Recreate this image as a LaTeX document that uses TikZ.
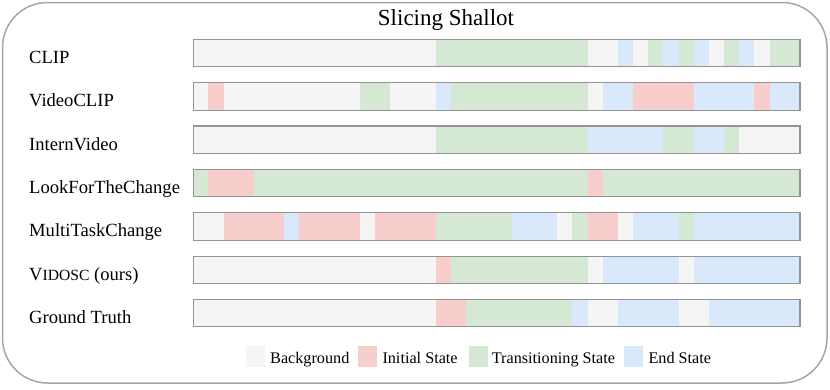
\documentclass[tikz,border=0pt]{standalone}
\usepackage{fontspec}
\setmainfont{Liberation Serif}
\definecolor{bgc}{HTML}{F5F5F5}
\definecolor{ini}{HTML}{F8CECC}
\definecolor{tra}{HTML}{D5E8D4}
\definecolor{fin}{HTML}{DAE8FC}
% one row of the timeline: #1 = top, #2 = colour/start/end segments (40 steps)
\newcommand{\staterow}[2]{%
  \foreach \col/\s/\e in {#2}
    \fill[\col] ({193.3+15.167*\s},#1) rectangle ({193.3+15.167*\e},#1+27.5);
  \draw[frame] (193.3,#1) rectangle (800,#1+27.5);
}
\begin{document}
\begin{tikzpicture}[x=1pt,y=-1pt,
  every node/.style={font=\fontsize{18.6}{20}\selectfont},
  method/.style={anchor=base west,inner sep=0pt},
  frame/.style={draw=black!42,line width=1.1pt},
  key/.style={minimum width=19pt,minimum height=21pt,inner sep=0pt},
  keytext/.style={anchor=base west,inner sep=0pt,font=\fontsize{16.2}{18}\selectfont}
]
\useasboundingbox (0,0) rectangle (830,389);
\draw[black!35,line width=1.5pt,rounded corners=45pt] (2.5,2.5) rectangle (827,383);
\node[anchor=base,inner sep=0pt,font=\fontsize{23}{25}\selectfont] (title) at (446,25.5) {Slicing Shallot};

\node[method] (clip) at (29,63.3) {CLIP};
\node[method] (videoclip) at (29,106.65) {VideoCLIP};
\node[method] (internvideo) at (29,150) {InternVideo};
\node[method] (lookfor) at (29,193.35) {LookForTheChange};
\node[method] (multitask) at (29,236.7) {MultiTaskChange};
\node[method] (vidosc) at (29,280.05) {V{\fontsize{15.6}{16}\selectfont IDOSC} (ours)};
\node[method] (truth) at (29,323.4) {Ground Truth};

\staterow{39.3}{bgc/0/16,tra/16/26,bgc/26/28,fin/28/29,bgc/29/30,tra/30/31,fin/31/32,tra/32/33,fin/33/34,bgc/34/35,tra/35/36,fin/36/37,bgc/37/38,tra/38/40}
\staterow{82.65}{bgc/0/1,ini/1/2,bgc/2/11,tra/11/13,bgc/13/16,fin/16/17,tra/17/26,bgc/26/27,fin/27/29,ini/29/33,fin/33/37,ini/37/38,fin/38/40}
\staterow{126}{bgc/0/16,tra/16/26,fin/26/31,tra/31/33,fin/33/35,tra/35/36,bgc/36/40}
\staterow{169.35}{tra/0/1,ini/1/4,tra/4/26,ini/26/27,tra/27/40}
\staterow{212.7}{bgc/0/2,ini/2/6,fin/6/7,ini/7/11,bgc/11/12,ini/12/16,tra/16/21,fin/21/24,bgc/24/25,tra/25/26,ini/26/28,bgc/28/29,fin/29/32,tra/32/33,fin/33/40}
\staterow{256.05}{bgc/0/16,ini/16/17,tra/17/26,bgc/26/27,fin/27/32,bgc/32/33,fin/33/40}
\staterow{299.4}{bgc/0/16,ini/16/18,tra/18/25,fin/25/26,bgc/26/28,fin/28/32,bgc/32/34,fin/34/40}

% legend
\node[key,fill=bgc] (kbg) at (255,356) {};
\node[key,fill=ini] (kini) at (367.2,356) {};
\node[key,fill=tra] (ktra) at (478.3,356) {};
\node[key,fill=fin] (kfin) at (633.2,356) {};
\node[keytext] (tbg) at (270,363) {Background};
\node[keytext] (tini) at (382.3,363) {Initial State};
\node[keytext] (ttra) at (491.7,363) {Transitioning State};
\node[keytext] (tfin) at (648.3,363) {End State};
\end{tikzpicture}
\end{document}
